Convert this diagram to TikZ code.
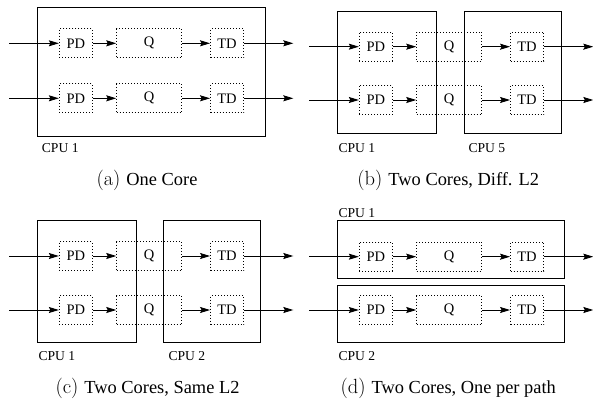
\documentclass[tikz,border=0pt]{standalone}
\usepackage{fontspec}
\setmainfont{Liberation Serif}
\newfontfamily\lmfont{Latin Modern Roman}
\usetikzlibrary{arrows.meta}
\newcommand{\sublab}[1]{{\lmfont\fontsize{20.5}{20.5}\selectfont (#1)}\hspace{6pt}}
\begin{document}
\begin{tikzpicture}[x=1pt,y=-1pt,
  cpu/.style={draw, line width=1pt},
  dbox/.style={draw, line width=0.9pt, dash pattern=on 0.9pt off 2.1pt, minimum height=29pt, inner sep=0pt, font=\fontsize{14.5}{14.5}\selectfont},
  pdbox/.style={dbox, minimum width=33pt},
  qbox/.style={dbox, minimum width=65pt},
  tdbox/.style={dbox, minimum width=33pt},
  arr/.style={-{Stealth[length=10pt,width=6pt,inset=1.5pt]}, line width=0.9pt},
  lbl/.style={anchor=west, inner sep=0pt, font=\fontsize{13.6}{13.6}\selectfont},
  captext/.style={inner sep=0pt, font=\fontsize{18.4}{18.4}\selectfont}]
\useasboundingbox (0,0) rectangle (593,403);

% path rows of the four panels
\foreach \p/\dx/\ya/\yb in {a/0/43.3/98.3, b/300/46.7/100, c/0/256/310, d/300/256.7/310}{
  \foreach \r/\y in {1/\ya, 2/\yb}{
    \node[pdbox] (\p pd\r) at (75.8+\dx,\y) {PD};
    \node[qbox]  (\p q\r)  at (149.2+\dx,\y) {Q};
    \node[tdbox] (\p td\r) at (227+\dx,\y) {TD};
    \coordinate (\p in\r)  at (9.3+\dx,\y);
    \coordinate (\p out\r) at (293.3+\dx,\y);
    \draw[arr] (\p in\r) -- (\p pd\r);
    \draw[arr] (\p pd\r) -- (\p q\r);
    \draw[arr] (\p q\r) -- (\p td\r);
    \draw[arr] (\p td\r) -- (\p out\r);
  }
}

% (a)
\draw[cpu] (37.5,7.7) rectangle (265,136.7);
\node[lbl] (alab) at (41.7,147.7) {CPU 1};
\node[captext] (acap) at (147,180) {\sublab{a}One Core};

% (b)
\draw[cpu] (337.5,11.7) rectangle (436,133.3);
\draw[cpu] (464,11.7) rectangle (561.3,133.3);
\node[lbl] (blab1) at (338.3,147.7) {CPU 1};
\node[lbl] (blab2) at (468.3,147.7) {CPU 5};
\node[captext] (bcap) at (448.3,180) {\sublab{b}Two Cores, Diff. L2};

% (c)
\draw[cpu] (37.5,220.7) rectangle (136,342.7);
\draw[cpu] (163.3,220.7) rectangle (260.7,342.7);
\node[lbl] (clab1) at (38.3,356) {CPU 1};
\node[lbl] (clab2) at (168.3,356) {CPU 2};
\node[captext] (ccap) at (147.5,388) {\sublab{c}Two Cores, Same L2};

% (d)
\draw[cpu] (337.5,220.7) rectangle (564.7,278.3);
\draw[cpu] (337.5,285.7) rectangle (564.7,342.7);
\node[lbl] (dlab1) at (338.3,212.7) {CPU 1};
\node[lbl] (dlab2) at (338.3,356) {CPU 2};
\node[captext] (dcap) at (448.3,388) {\sublab{d}Two Cores, One per path};
\end{tikzpicture}
\end{document}
